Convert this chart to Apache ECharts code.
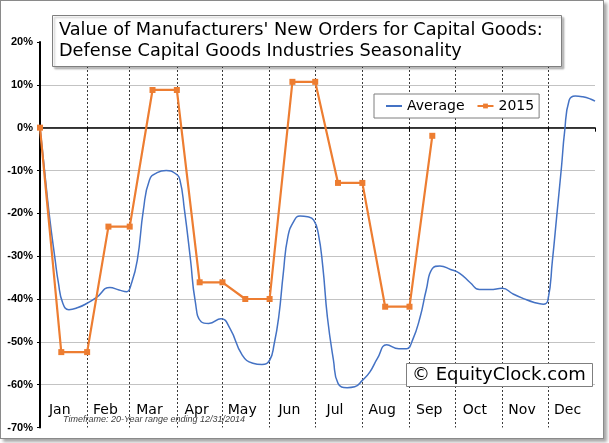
<!DOCTYPE html>
<html><head><meta charset="utf-8">
<script src="https://cdn.jsdelivr.net/npm/echarts@6/dist/echarts.min.js"></script>
<style>
html,body{margin:0;padding:0;background:#fff}
#frame{position:absolute;left:0;top:0;width:602px;height:437px;border:1px solid #8a8a8a;box-shadow:3px 3px 3px rgba(0,0,0,0.35);background:#fff}
#c{position:absolute;left:0;top:0;width:609px;height:443px}
</style>
</head><body><div id="frame"></div><div id="c"></div>
<script>
// ---- data ----
const monthNames = ['Jan','Feb','Mar','Apr','May','Jun','Jul','Aug','Sep','Oct','Nov','Dec'];
const monthBoundaries = [31,59,90,120,151,181,212,243,273,304,334,365];
const monthLabelDays = [13,43,72,103,133,164,194,225,256,286,317,347];
const yMin = -70, yMax = 20, yStep = 10;

const avgDays = [0,3,6,10,12,15,19,25,31,37,46,52,57,60,64,68,72,77,83,89,92,95,99,102,106,111,119,125,133,140,146,151,154,157,160,163,167,171,176,180,183,186,189,193,196,202,207,212,217,222,228,236,241,245,250,254,258,263,270,276,283,289,296,304,311,318,325,331,334,337,340,343,345,348,352,357,362,365];
const avgValues = [0,-10,-20,-31,-36,-41,-42.5,-42,-41,-39.7,-37.3,-37.9,-38.3,-36.5,-30.9,-19.2,-12.2,-10.5,-10,-10.7,-12.2,-19.2,-30.9,-40.3,-45.3,-45.7,-44.6,-46.9,-53.1,-55,-55.3,-54.3,-50.5,-44.2,-34,-25.5,-21.8,-20.6,-20.8,-21.6,-24.7,-32.5,-44.2,-54.3,-59.7,-60.7,-60.5,-59,-57,-53.8,-50.7,-51.6,-51.6,-49.6,-44.2,-37.9,-32.9,-32.3,-33.1,-34,-36.2,-37.8,-37.8,-37.5,-38.8,-39.9,-40.8,-41.2,-40.3,-31,-20,-9,-1,6.4,7.4,7.2,6.7,6.2];

const y2015Days = [0,14,31,45,59,74,90,105,120,135,151,166,181,196,212,227,243,258];
const y2015Values = [0,-52.4,-52.4,-23.1,-23.1,8.8,8.8,-36.1,-36.1,-40,-40,10.7,10.7,-12.9,-12.9,-41.8,-41.8,-1.9];

const titleText = "Value of Manufacturers' New Orders for Capital Goods:\nDefense Capital Goods Industries Seasonality";
const watermark = '© EquityClock.com';
const timeframe = 'Timeframe: 20-Year range ending 12/31/2014';

// ---- build ----
const days = Array.from({length: 366}, (_, i) => String(i));
const labelSet = new Set(monthLabelDays);
const boundarySet = new Set(monthBoundaries);
const avgData = avgDays.map((d, i) => [d, avgValues[i]]);
const d2015 = y2015Days.map((d, i) => [d, y2015Values[i]]);
const nTicks = (yMax - yMin) / yStep + 1;
const gridColors = Array.from({length: nTicks}, (_, i) => (i === 0 || i === nTicks - 1) ? 'rgba(0,0,0,0)' : '#c3c3c3');

const chart = echarts.init(document.getElementById('c'), null, {renderer: 'canvas'});
chart.setOption({
  animation: false,
  title: [
    {
      text: titleText, left: 52, top: 15, z: 10,
      padding: [5, 19, 5, 7],
      backgroundColor: '#fff', borderColor: '#7f7f7f', borderWidth: 1,
      shadowColor: 'rgba(0,0,0,0.25)', shadowBlur: 2, shadowOffsetX: 2, shadowOffsetY: 2,
      textStyle: {fontFamily: 'DejaVu Sans', fontSize: 17.7, fontWeight: 'normal', color: '#000', lineHeight: 21}
    },
    {
      text: watermark, left: 406, top: 363, z: 10,
      padding: [3, 7, 3, 6],
      backgroundColor: '#fff', borderColor: '#7f7f7f', borderWidth: 1,
      textStyle: {fontFamily: 'DejaVu Sans', fontSize: 18, fontWeight: 'normal', color: '#000'}
    },
    {
      text: timeframe, left: 63, top: 415, padding: 0, z: 10,
      textStyle: {fontFamily: 'Liberation Sans', fontSize: 9, fontStyle: 'italic', fontWeight: 'normal', color: '#404040'}
    }
  ],
  legend: {
    left: 374, top: 94, z: 10,
    padding: [5, 5, 5, 11],
    itemWidth: 16, itemHeight: 6, itemGap: 12,
    backgroundColor: '#fff', borderColor: '#7f7f7f', borderWidth: 1,
    textStyle: {fontFamily: 'DejaVu Sans', fontSize: 14, color: '#000'},
    data: [{name: 'Average', itemStyle: {opacity: 0}}, {name: '2015'}]
  },
  grid: {left: 40, right: 14, top: 42, bottom: 15.5, containLabel: false},
  xAxis: [
    {
      type: 'category', data: days, boundaryGap: false, position: 'bottom',
      axisLine: {show: false, onZero: false},
      axisTick: {show: false},
      axisLabel: {
        show: true, inside: true, margin: 10,
        interval: (i) => labelSet.has(i),
        formatter: (v) => monthNames[monthLabelDays.indexOf(Number(v))] || '',
        fontFamily: 'DejaVu Sans', fontSize: 14, color: '#000'
      },
      splitLine: {
        show: true, interval: (i) => boundarySet.has(i) && i !== 365,
        lineStyle: {color: '#3a3a3a', type: [2, 2], width: 1}
      }
    },
    {
      type: 'category', data: days, boundaryGap: false, position: 'top',
      axisLine: {show: true, onZero: true, lineStyle: {color: '#000', width: 1.5}},
      axisTick: {show: true, inside: true, length: 4, interval: (i) => boundarySet.has(i), lineStyle: {color: '#000'}},
      axisLabel: {show: false},
      splitLine: {show: false}
    }
  ],
  yAxis: {
    type: 'value', min: yMin, max: yMax, interval: yStep,
    axisLine: {show: true, lineStyle: {color: '#000', width: 2}},
    axisTick: {show: true, length: 3, lineStyle: {color: '#000'}},
    axisLabel: {formatter: '{value}%', fontFamily: 'Liberation Sans', fontSize: 11, fontWeight: 'bold', color: '#000', margin: 7},
    splitLine: {show: true, lineStyle: {color: gridColors, width: 1.2}}
  },
  series: [
    {
      name: 'Average', type: 'line', xAxisIndex: 0, data: avgData,
      smooth: true, symbol: 'none', z: 2,
      lineStyle: {color: '#4472C4', width: 1.5}, itemStyle: {color: '#4472C4'}
    },
    {
      name: '2015', type: 'line', xAxisIndex: 0, data: d2015,
      symbol: 'rect', symbolSize: 6, showSymbol: true, showAllSymbol: true, z: 3,
      lineStyle: {color: '#ED7D31', width: 2.2}, itemStyle: {color: '#ED7D31'}
    }
  ]
});
</script>
</body></html>
